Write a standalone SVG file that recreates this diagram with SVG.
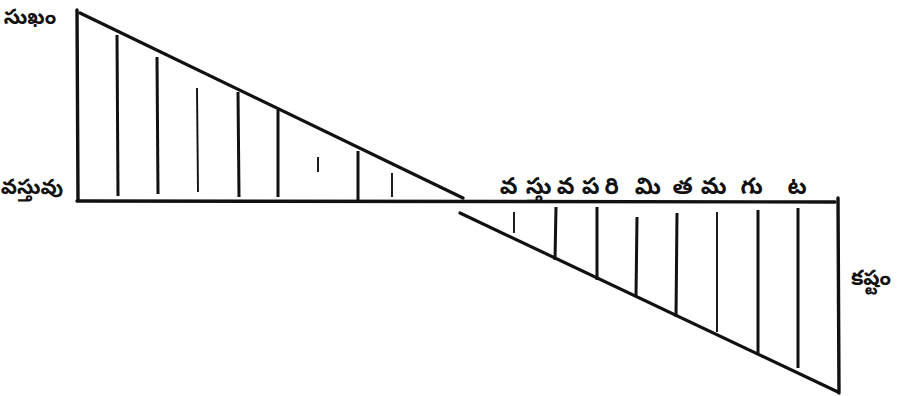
<svg xmlns="http://www.w3.org/2000/svg" width="907" height="396" viewBox="0 0 907 396">
<style>
.ax{stroke:#111;stroke-width:3.4;stroke-linecap:round;fill:none}
.dg{stroke:#111;stroke-width:3.2;stroke-linecap:round;fill:none}
.h{stroke:#111;stroke-width:3;stroke-linecap:butt}
.ht{stroke:#111;stroke-width:1.9;stroke-linecap:butt}
.lb{font-family:"Noto Sans Telugu","Noto Sans","DejaVu Sans",sans-serif;font-size:21px;fill:#111;font-weight:bold}
.big{font-size:23px}
</style>
<rect width="907" height="396" fill="#fff"/>
<g id="connectors">
<line class="ax" x1="77" y1="10" x2="78" y2="200"/>
<line class="ax" x1="77" y1="201" x2="835" y2="202"/>
<line class="ax" x1="838" y1="198" x2="839" y2="393"/>
<line class="dg" x1="80" y1="13" x2="463" y2="198"/>
<line class="dg" x1="460" y1="213" x2="838" y2="392"/>
</g>
<g id="upper-hatching">
<line class="h" x1="117" y1="35" x2="118" y2="196"/>
<line class="h" x1="157" y1="57" x2="158" y2="194"/>
<line class="ht" x1="197" y1="88" x2="198" y2="192"/>
<line class="h" x1="238" y1="92" x2="239" y2="197"/>
<line class="h" x1="278" y1="110" x2="278" y2="197"/>
<line class="ht" x1="318" y1="157" x2="318" y2="172"/>
<line class="h" x1="358" y1="151" x2="358" y2="200"/>
<line class="ht" x1="392" y1="173" x2="392" y2="197"/>
</g>
<g id="lower-hatching">
<line class="ht" x1="514" y1="212" x2="514" y2="233"/>
<line class="h" x1="556" y1="207" x2="555" y2="260"/>
<line class="h" x1="597" y1="207" x2="597" y2="280"/>
<line class="h" x1="637" y1="217" x2="636" y2="297"/>
<line class="h" x1="677" y1="213" x2="676" y2="317"/>
<line class="ht" x1="717" y1="212" x2="717" y2="332"/>
<line class="h" x1="758" y1="210" x2="758" y2="353"/>
<line class="h" x1="798" y1="208" x2="798" y2="368"/>
</g>
<g id="label-sukham"><text class="lb" x="30" y="24" text-anchor="middle">సుఖం</text></g>
<g id="label-vastuvu"><text class="lb" x="32" y="194" text-anchor="middle">వస్తువు</text></g>
<g id="label-quantity"><text class="lb big" y="194" text-anchor="middle"><tspan x="512">వ</tspan> <tspan x="542">స్తు</tspan> <tspan x="569">వ</tspan> <tspan x="594">ప</tspan> <tspan x="615">రి</tspan> <tspan x="651">మి</tspan> <tspan x="686">త</tspan> <tspan x="717">మ</tspan> <tspan x="755">గు</tspan> <tspan x="797">ట</tspan></text></g>
<g id="label-kashtam"><text class="lb" x="871" y="285" text-anchor="middle">కష్టం</text></g>
</svg>
